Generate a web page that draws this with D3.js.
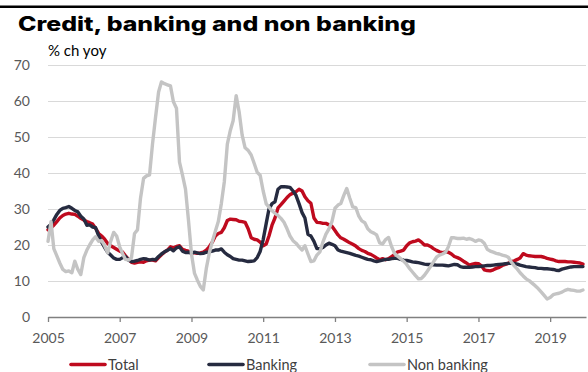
<!DOCTYPE html>
<html lang="en">
  <head>
    <meta charset="utf-8">
    <title>Credit, banking and non banking</title>
    <script src="https://d3js.org/d3.v7.min.js"></script>
    <style>
      body { margin: 0; background: #fff; }
      svg { display: block; }
    </style>
  </head>

  <body>
    <div id='chart'></div>

    <script type='text/javascript'>
      // monthly, Jan 2005 .. Dec 2019, % ch yoy
      let startMonth = new Date(2005, 0, 1)
      let seriesNames = ['Total', 'Banking', 'Non banking']

      let total = [
        24.2, 24.8, 25.5, 26.5, 27.5, 28.2, 28.6, 28.8, 28.6, 28.5, 28.0, 27.4,
        26.9, 26.5, 26.2, 25.8, 24.6, 23.2, 22.5, 21.6, 20.4, 19.8, 19.3, 18.8,
        18.3, 18.0, 17.0, 16.0, 15.2, 15.0, 15.2, 15.3, 15.2, 15.6, 15.8, 15.8,
        15.6, 16.5, 17.3, 18.0, 18.6, 19.5, 19.2, 19.6, 19.8, 18.8, 18.5, 18.3,
        17.8, 17.8, 17.7, 17.8, 18.0, 18.6, 19.5, 20.8, 22.5, 23.2, 23.5, 24.8,
        26.8, 27.2, 27.1, 27.0, 26.6, 26.5, 26.3, 24.5, 22.0, 21.6, 21.4, 20.8,
        19.8, 20.3, 22.5, 25.5, 27.5, 30.3, 31.2, 32.2, 33.2, 34.0, 34.4, 34.8,
        35.5, 35.0, 33.4, 32.3, 31.6, 27.5, 26.3, 26.2, 26.0, 26.0, 25.6, 25.2,
        24.0, 22.8, 22.0, 21.6, 21.1, 20.6, 20.2, 19.7, 19.0, 18.5, 18.2, 17.7,
        17.4, 16.9, 16.4, 15.9, 16.2, 15.9, 16.2, 16.8, 17.4, 18.1, 18.3, 18.6,
        19.8, 20.6, 20.9, 21.1, 21.4, 20.8, 20.0, 20.0, 19.6, 19.0, 18.5, 18.1,
        17.9, 18.1, 18.0, 17.5, 16.8, 16.5, 16.1, 15.5, 15.0, 14.4, 14.7, 14.9,
        14.8, 14.2, 13.1, 12.9, 12.8, 13.1, 13.5, 13.8, 14.3, 14.6, 14.9, 15.4,
        15.6, 16.0, 16.4, 17.6, 17.2, 17.0, 16.9, 16.8, 16.8, 16.8, 16.6, 16.3,
        16.1, 15.9, 15.6, 15.4, 15.4, 15.4, 15.3, 15.3, 15.2, 15.1, 15.0, 14.7
      ]

      let banking = [
        25.0, 25.8, 27.0, 28.5, 29.6, 30.2, 30.4, 30.7, 30.2, 29.6, 29.2, 28.0,
        27.2, 25.5, 25.6, 25.0, 24.8, 22.5, 20.8, 19.3, 18.0, 17.2, 16.4, 16.0,
        16.0, 16.5, 16.8, 15.8, 15.4, 15.5, 15.7, 16.0, 16.2, 16.1, 15.8, 16.0,
        15.9, 16.8, 17.5, 18.1, 18.5, 19.0, 18.4, 19.2, 19.5, 18.3, 17.9, 18.0,
        17.7, 18.0, 17.8, 17.6, 17.7, 18.0, 18.1, 18.3, 18.6, 18.6, 18.9, 18.0,
        17.3, 16.8, 16.2, 16.0, 15.8, 15.8, 15.6, 15.4, 15.5, 15.6, 16.5, 18.2,
        21.5, 26.0, 30.0, 31.5, 32.0, 35.5, 36.2, 36.2, 36.1, 36.0, 35.0, 33.8,
        31.5, 29.0, 27.5, 23.0, 22.5, 21.0, 19.0, 19.0, 19.3, 20.0, 20.5, 20.2,
        19.8, 18.6, 18.3, 18.1, 17.9, 17.7, 17.4, 17.1, 16.9, 16.6, 16.3, 16.0,
        15.9, 15.6, 15.4, 15.6, 15.8, 16.0, 16.0, 16.2, 16.3, 16.3, 16.0, 15.8,
        15.7, 15.5, 15.3, 15.2, 15.1, 14.9, 14.7, 14.6, 14.6, 14.5, 14.4, 14.4,
        14.4, 14.3, 14.2, 14.4, 14.6, 14.5, 14.0, 13.8, 13.8, 13.8, 13.9, 14.0,
        14.0, 14.1, 14.2, 14.3, 14.3, 14.4, 14.5, 14.6, 14.7, 14.8, 14.9, 14.9,
        14.9, 14.7, 14.4, 14.2, 14.0, 13.9, 13.8, 13.7, 13.5, 13.5, 13.4, 13.4,
        13.3, 13.2, 13.0, 12.9, 13.3, 13.5, 13.7, 13.9, 14.0, 14.0, 14.0, 14.0
      ]

      let nonBanking = [
        21.0, 26.5, 19.0, 17.0, 15.0, 13.2, 12.6, 12.8, 12.3, 15.5, 13.2, 11.8,
        16.5, 18.6, 20.0, 21.4, 22.3, 21.0, 21.2, 19.8, 17.8, 21.0, 23.5, 22.5,
        19.5, 17.5, 16.0, 15.8, 16.5, 23.2, 24.2, 33.0, 38.5, 39.2, 39.5, 48.0,
        55.5, 62.5, 65.3, 64.8, 64.5, 64.2, 59.8, 58.0, 43.0, 39.5, 35.5, 27.0,
        17.5, 12.1, 10.3, 8.5, 7.5, 13.5, 17.7, 21.0, 23.8, 26.5, 31.5, 37.5,
        48.0, 51.9, 54.5, 61.5, 57.0, 50.5, 47.0, 46.3, 45.0, 42.7, 40.2, 39.4,
        35.0, 31.4, 30.5, 29.5, 28.8, 28.2, 27.4, 26.3, 24.5, 22.5, 21.2, 20.5,
        19.5, 18.6, 19.8, 17.5, 15.4, 15.6, 17.2, 18.1, 20.9, 23.0, 24.5, 26.5,
        30.2, 31.1, 31.5, 33.8, 35.7, 33.0, 30.6, 30.4, 28.0, 26.7, 26.2, 24.5,
        23.7, 23.3, 22.8, 20.6, 20.3, 21.5, 22.1, 19.5, 17.6, 16.9, 16.2, 15.5,
        14.6, 13.4, 12.5, 11.5, 10.6, 10.7, 11.6, 12.8, 14.0, 15.3, 16.6, 17.2,
        17.5, 18.0, 19.5, 22.0, 22.0, 21.8, 21.8, 21.9, 21.6, 21.8, 21.5, 21.0,
        21.4, 21.2, 20.5, 18.8, 18.3, 18.0, 17.7, 17.5, 17.2, 17.0, 16.6, 15.3,
        14.2, 13.3, 12.3, 11.4, 10.6, 10.1, 9.4, 8.7, 7.9, 7.0, 6.0, 5.0,
        5.4, 6.2, 6.4, 6.6, 6.9, 7.4, 7.7, 7.5, 7.4, 7.2, 7.2, 7.5
      ]

      let yTicks = [0, 10, 20, 30, 40, 50, 60, 70]
      let xTickYears = [2005, 2007, 2009, 2011, 2013, 2015, 2017, 2019]

      let width = 588, height = 372
      let colors = ['#bf0a1e', '#262b40', '#c4c4c4']
      let font = 'Lato, "Noto Sans", sans-serif'

      let svg = d3.select('#chart').append('svg')
        .attr('width', width)
        .attr('height', height)

      // black rule on top
      svg.append('rect')
        .attr('x', 0).attr('y', 5.5)
        .attr('width', width).attr('height', 2.5)
        .attr('fill', '#000')

      svg.append('text')
        .attr('x', 18).attr('y', 31)
        .attr('font-family', 'Inter, "Open Sans", sans-serif')
        .attr('font-weight', 800)
        .attr('font-size', 19.5)
        .attr('textLength', 398)
        .attr('lengthAdjust', 'spacingAndGlyphs')
        .attr('fill', '#000')
        .text('Credit, banking and non banking')

      svg.append('text')
        .attr('x', 48).attr('y', 56)
        .attr('font-family', font)
        .attr('font-size', 15)
        .attr('fill', '#000')
        .text('% ch yoy')

      let dates = total.map((d, i) => d3.timeMonth.offset(startMonth, i))

      let x = d3.scaleTime()
        .domain([startMonth, new Date(2020, 0, 1)])
        .range([48, 586])
      let y = d3.scaleLinear()
        .domain([0, 70])
        .range([317, 65])

      // gridlines + y labels
      let yAxis = svg.append('g')
        .attr('transform', 'translate(48,0)')
        .call(d3.axisLeft(y).tickValues(yTicks).tickSize(-(586 - 48)).tickPadding(18))
      yAxis.select('.domain').remove()
      yAxis.selectAll('line')
        .attr('stroke', d => d === 0 ? 'none' : '#d9d9d9')
        .attr('stroke-width', 1.2)
      yAxis.selectAll('text')
        .attr('font-family', font)
        .attr('font-size', 14)
        .attr('fill', '#595959')

      // x axis
      let xAxis = svg.append('g')
        .attr('transform', 'translate(0,317)')
        .call(d3.axisBottom(x)
          .tickValues(xTickYears.map(yr => new Date(yr, 0, 1)))
          .tickFormat(d3.timeFormat('%Y'))
          .tickSize(5)
          .tickSizeOuter(0)
          .tickPadding(11))
      xAxis.select('.domain').attr('stroke', '#808080').attr('stroke-width', 1.3)
      xAxis.selectAll('line').attr('stroke', '#808080').attr('stroke-width', 1.3)
      xAxis.selectAll('text')
        .attr('font-family', font)
        .attr('font-size', 14)
        .attr('fill', '#595959')

      let line = d3.line()
        .x((d, i) => x(dates[i]))
        .y(d => y(d))

      let allSeries = [total, banking, nonBanking]
      svg.append('g').selectAll('path')
        .data(allSeries)
        .enter()
        .append('path')
        .attr('d', d => line(d))
        .attr('fill', 'none')
        .attr('stroke', (d, i) => colors[i])
        .attr('stroke-width', 3.4)
        .attr('stroke-linejoin', 'round')
        .attr('stroke-linecap', 'round')

      // legend
      let legendX = [70, 208, 369]
      let legend = svg.append('g').selectAll('g')
        .data(seriesNames)
        .enter()
        .append('g')
        .attr('transform', (d, i) => 'translate(' + legendX[i] + ',364.5)')
      legend.append('line')
        .attr('x1', 1).attr('x2', 35)
        .attr('stroke', (d, i) => colors[i])
        .attr('stroke-width', 3.6)
        .attr('stroke-linecap', 'round')
      legend.append('text')
        .attr('x', 38).attr('y', 5)
        .attr('font-family', font)
        .attr('font-size', 14.5)
        .attr('fill', '#404040')
        .text(d => d)
    </script>
  </body>
</html>
